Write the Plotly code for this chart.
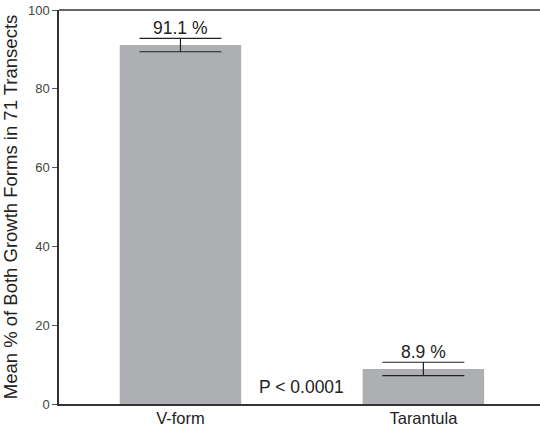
import plotly.graph_objects as go

categories = ["V-form", "Tarantula"]
means = [91.1, 8.9]
errors = [1.7, 1.7]
labels = ["91.1 %", "8.9 %"]
y_ticks = [0, 20, 40, 60, 80, 100]

fig = go.Figure()
fig.add_trace(go.Bar(
    x=categories, y=means, width=0.5,
    marker=dict(color="#aeafb2", line=dict(width=0)),
    error_y=dict(type="data", array=errors, visible=True, color="#222222",
                 thickness=1.2, width=41),
))
for c, m, e, t in zip(categories, means, errors, labels):
    fig.add_annotation(x=c, y=m + e, text=t, showarrow=False, yanchor="bottom",
                       yshift=-2, font=dict(size=17.5, color="#222222"))
fig.add_annotation(x=0.5, y=4.3, text="P < 0.0001", showarrow=False,
                   font=dict(size=17.5, color="#222222"))
fig.add_shape(type="line", xref="paper", yref="paper", x0=0, x1=1, y0=1, y1=1,
              line=dict(color="#333333", width=1.5))

fig.update_layout(
    width=540, height=428,
    margin=dict(l=59, r=0, t=10, b=24, autoexpand=False),
    paper_bgcolor="white", plot_bgcolor="white",
    font=dict(family="Liberation Sans, Arial, sans-serif", color="#222222"),
    showlegend=False,
)
fig.update_xaxes(range=[-0.5, 1.48], showline=True, linecolor="#333333", linewidth=1.5,
                 ticks="", tickfont=dict(size=16.5, color="#222222"),
                 ticklabelstandoff=-2,
                 showgrid=False, automargin=False)
fig.update_yaxes(range=[0, 100], tickvals=y_ticks, showline=True, linecolor="#333333",
                 linewidth=1.5, ticks="outside", ticklen=5, tickcolor="#555555",
                 tickfont=dict(size=13, color="#444444"), showgrid=False, zeroline=False,
                 automargin=False,
                 title=dict(text="Mean % of Both Growth Forms in 71 Transects",
                            font=dict(size=18.5, color="#222222"), standoff=10))
fig.write_html("out.html", config={"displayModeBar": False},
               post_script="document.body.style.margin='0';document.body.style.overflow='hidden';")
